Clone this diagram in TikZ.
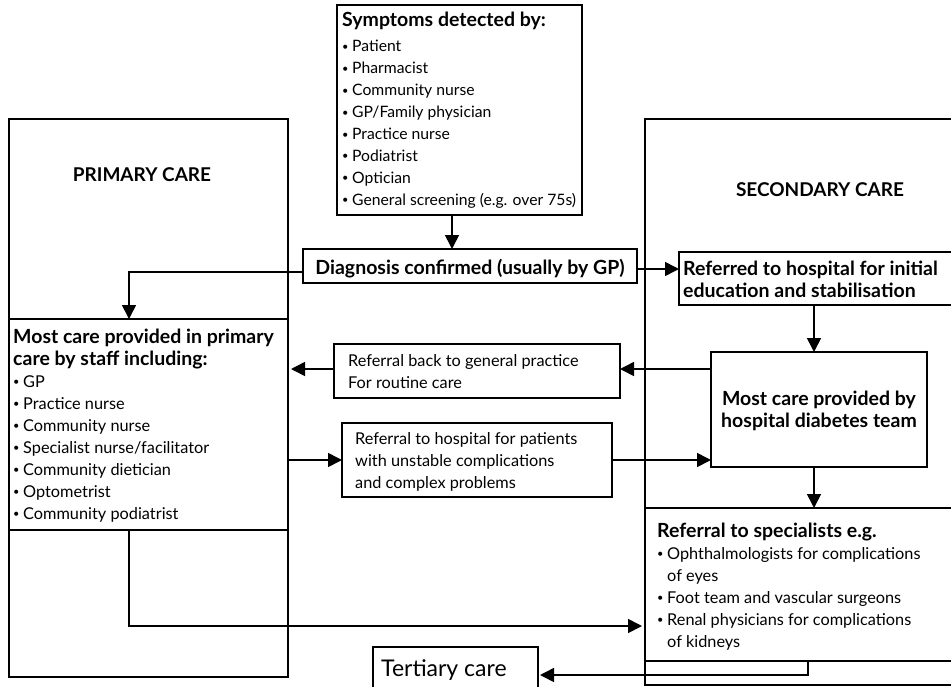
\documentclass[tikz,border=0pt]{standalone}
\usepackage{fontspec}
\setmainfont{Lato}
\usetikzlibrary{arrows.meta}
\newcommand\bt[1]{{\fontsize{19.5}{22}\selectfont\bfseries #1}}
\newcommand\bul{\makebox[10pt][l]{\raisebox{1.3pt}{\fontsize{11}{11}\selectfont\textbullet}}}
\begin{document}
\begin{tikzpicture}[x=1pt,y=-1pt,
  panel/.style={draw, line width=1.2pt, inner sep=0pt, outer sep=0pt},
  box/.style={draw, line width=1.7pt, inner sep=0pt, outer sep=0pt},
  conn/.style={line width=1.6pt, -{Triangle[length=14pt,width=14pt]}},
  txt/.style={font=\fontsize{16.3}{22}\selectfont, align=left, inner sep=0pt, anchor=base west},
  head/.style={font=\fontsize{19}{22}\selectfont\bfseries, inner sep=0pt, anchor=base},
]
\useasboundingbox (0,0) rectangle (951,686);

% care panels
\node[panel, minimum width=279pt, minimum height=558pt] (primary) at (148.5,398) {};
\node[panel, minimum width=279pt, minimum height=211pt] (pcare) at (148.5,424.5) {};
\node[panel, minimum width=308pt, minimum height=566pt] (secondary) at (799,402) {};
\node[panel, minimum width=308pt, minimum height=153pt] (specialists) at (799,584.5) {};

% boxes
\node[box, minimum width=245pt, minimum height=210pt] (symptoms) at (459.5,110) {};
\node[box, minimum width=334pt, minimum height=34pt] (diagnosis) at (470,266) {};
\node[box, minimum width=274pt, minimum height=53pt] (referred) at (816,278.5) {};
\node[box, minimum width=216pt, minimum height=115pt] (hospital) at (819,409.5) {};
\node[box, minimum width=286pt, minimum height=54pt] (back) at (477,371) {};
\node[box, minimum width=270pt, minimum height=74pt] (referto) at (477,460) {};
\node[box, line width=1.2pt, minimum width=165pt, minimum height=50pt] (tertiary) at (455.5,672) {};

% headings
\node[head] (ptitle) at (142,181) {PRIMARY CARE};
\node[head] (stitle) at (820,196) {SECONDARY CARE};

% texts (each placed by the baseline of its last line)
\node[txt, font=\fontsize{15.7}{21.9}\selectfont] (symtext) at (342,205) {\bt{Symptoms detected by:}\\[3pt]
  \bul Patient\\
  \bul Pharmacist\\
  \bul Community nurse\\
  \bul GP/Family physician\\
  \bul Practice nurse\\
  \bul Podiatrist\\
  \bul Optician\\
  \bul General screening (e.g. over 75s)};
\node[txt, anchor=base] (diagtext) at (470,274) {\bt{Diagnosis confirmed (usually by GP)}};
\node[txt] (reftext) at (683,297) {\bt{Referred to hospital for initial}\\
  \bt{education and stabilisation}};
\node[txt, align=center, anchor=base] (hosptext) at (819,427) {\bt{Most care provided by}\\
  \bt{hospital diabetes team}};
\node[txt] (pctext) at (13,519) {\bt{Most care provided in primary}\\
  \bt{care by staff including:}\\
  \bul GP\\
  \bul Practice nurse\\
  \bul Community nurse\\
  \bul Specialist nurse/facilitator\\
  \bul Community dietician\\
  \bul Optometrist\\
  \bul Community podiatrist};
\node[txt] (backtext) at (348,388) {Referral back to general practice\\
  For routine care};
\node[txt] (reftotext) at (355,488) {Referral to hospital for patients\\
  with unstable complications\\
  and complex problems};
\node[txt] (spectext) at (657,647) {\bt{Referral to specialists e.g.}\\
  \bul Ophthalmologists for complications\\
  \phantom{\bul}of eyes\\
  \bul Foot team and vascular surgeons\\
  \bul Renal physicians for complications\\
  \phantom{\bul}of kidneys};
\node[txt, font=\fontsize{23}{26}\selectfont] (terttext) at (381,676) {Tertiary care};

% connectors
\draw[conn] (symptoms.south -| 452,0) -- (diagnosis.north -| 452,0);
\draw[conn] (diagnosis.west |- 0,272) -| (pcare.north -| 129,0);
\draw[conn] (diagnosis.east |- 0,269) -- (referred.west |- 0,269);
\draw[conn] (referred.south -| 814,0) -- (hospital.north -| 814,0);
\draw[conn] (hospital.west |- 0,369) -- (back.east |- 0,369);
\draw[conn, shorten >=3pt] (back.west |- 0,369) -- (primary.east |- 0,369);
\draw[conn] (primary.east |- 0,460) -- (referto.west |- 0,460);
\draw[conn] (referto.east |- 0,460) -- (hospital.west |- 0,460);
\draw[conn] (hospital.south -| 814,0) -- (specialists.north -| 814,0);
\draw[conn, shorten >=3pt] (pcare.south -| 129,0) |- (specialists.west |- 0,626);
\draw[conn, shorten >=2pt] (specialists.south -| 808,0) |- (tertiary.east |- 0,675);
\end{tikzpicture}
\end{document}
